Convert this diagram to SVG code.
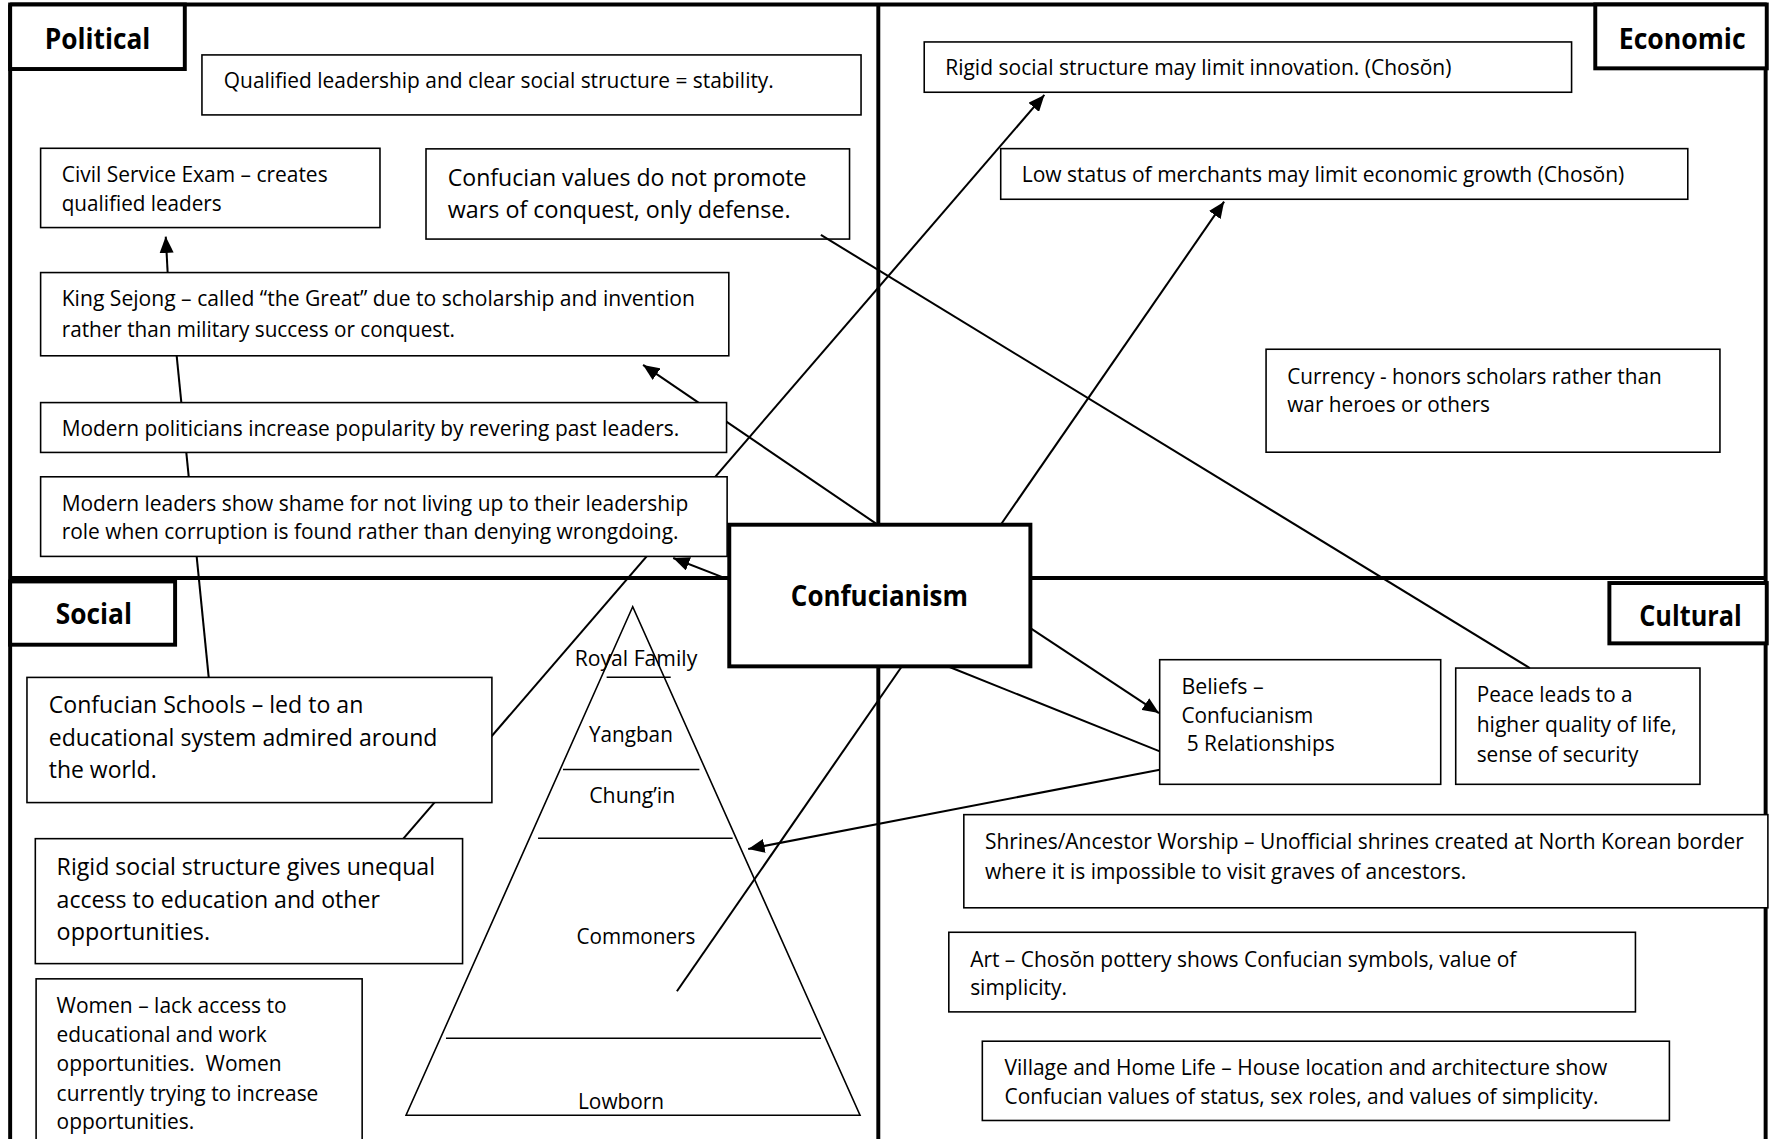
<svg xmlns="http://www.w3.org/2000/svg" width="1769" height="1139" viewBox="0 0 1769 1139">
<style>
.box{fill:#fff;stroke:#000;stroke-width:1.4}
.thick{fill:#fff;stroke:#000;stroke-width:3.5}
.frame{stroke:#000;stroke-width:3.5;fill:none}
.conn{stroke:#000;stroke-width:1.8;fill:none}
.pyr{stroke:#000;stroke-width:1.4;fill:none}
text{font-family:"Open Sans","Liberation Sans",sans-serif;font-size:18.8px;fill:#000}
.tl{font-size:20.8px}
.tb{font-weight:bold;font-size:24.8px}
.mid{text-anchor:middle}
</style>
<defs>
<marker id="arr" viewBox="0 0 14.5 12.5" refX="14.5" refY="6.25" markerWidth="14.5" markerHeight="12.5" markerUnits="userSpaceOnUse" orient="auto">
<path d="M0,0 L14.5,6.25 L0,12.5 z" fill="#000"/>
</marker>
</defs>
<rect x="0" y="0" width="1769" height="1139" fill="#fff"/>
<g transform="scale(1.1282 1.1277)">
<g id="frame">
<line class="frame" x1="9" y1="4" x2="1566" y2="4"/>
<line class="frame" x1="9" y1="4" x2="9" y2="1012"/>
<line class="frame" x1="1565" y1="4" x2="1565" y2="1012"/>
<line class="frame" x1="778.5" y1="4" x2="778.5" y2="1012"/>
<line class="frame" x1="9" y1="512.5" x2="1566" y2="512.5"/>
</g>
<g id="connectors">
<line class="conn" x1="148.6" y1="241.7" x2="146.9" y2="209.8" marker-end="url(#arr)"/>
<line class="conn" x1="156.6" y1="315.5" x2="185" y2="600.7"/>
<line class="conn" x1="777.5" y1="465" x2="570" y2="323.6" marker-end="url(#arr)"/>
<line class="conn" x1="646" y1="514" x2="596.7" y2="494.8" marker-end="url(#arr)"/>
<line class="conn" x1="357.5" y1="743.7" x2="925.7" y2="84.2" marker-end="url(#arr)"/>
<line class="conn" x1="887" y1="465.3" x2="1085" y2="178.8" marker-end="url(#arr)"/>
<line class="conn" x1="799.3" y1="591" x2="600" y2="879"/>
<line class="conn" x1="913.3" y1="557" x2="1027.3" y2="632.3" marker-end="url(#arr)"/>
<line class="conn" x1="840.5" y1="591" x2="1028" y2="666.3"/>
<line class="conn" x1="1028" y1="682.5" x2="663.2" y2="752.9" marker-end="url(#arr)"/>
</g>
<g id="label-political"><rect class="thick" x="9" y="4" width="154.8" height="57.2"/><text class="tb" x="39.7" y="43.5" textLength="93.6" lengthAdjust="spacingAndGlyphs">Political</text></g>
<g id="label-economic"><rect class="thick" x="1414" y="4" width="152" height="56.6"/><text class="tb" x="1434.8" y="43.5" textLength="112.5" lengthAdjust="spacingAndGlyphs">Economic</text></g>
<g id="label-social"><rect class="thick" x="9" y="515.6" width="146.2" height="56.1"/><text class="tb" x="49.4" y="553.2" textLength="67.6" lengthAdjust="spacingAndGlyphs">Social</text></g>
<g id="label-cultural"><rect class="thick" x="1426.5" y="517" width="139.5" height="53.5"/><text class="tb" x="1453" y="554.7" textLength="90.8" lengthAdjust="spacingAndGlyphs">Cultural</text></g>
<g id="pol-stability"><rect class="box" x="179" y="48.7" width="584.2" height="53.2"/><text x="198.4" y="78.2" textLength="487.5" lengthAdjust="spacingAndGlyphs">Qualified leadership and clear social structure = stability.</text></g>
<g id="pol-civil"><rect class="box" x="36" y="131.5" width="300.8" height="70.3"/><text x="54.7" y="161.8" textLength="235.7" lengthAdjust="spacingAndGlyphs">Civil Service Exam – creates</text><text x="54.7" y="186.8" textLength="141.8" lengthAdjust="spacingAndGlyphs">qualified leaders</text></g>
<g id="pol-defense"><rect class="box" x="377.6" y="132" width="375.4" height="80"/><text class="tl" x="396.9" y="164.8" textLength="318" lengthAdjust="spacingAndGlyphs">Confucian values do not promote</text><text class="tl" x="396.9" y="193.4" textLength="303.8" lengthAdjust="spacingAndGlyphs">wars of conquest, only defense.</text></g>
<g id="pol-sejong"><rect class="box" x="36" y="241.7" width="610" height="73.8"/><text x="54.7" y="271.1" textLength="561.3" lengthAdjust="spacingAndGlyphs">King Sejong – called “the Great” due to scholarship and invention</text><text x="54.7" y="299.2" textLength="348.6" lengthAdjust="spacingAndGlyphs">rather than military success or conquest.</text></g>
<g id="pol-revere"><rect class="box" x="36" y="357" width="608" height="44.2"/><text x="54.7" y="386.4" textLength="547.4" lengthAdjust="spacingAndGlyphs">Modern politicians increase popularity by revering past leaders.</text></g>
<g id="pol-shame"><rect class="box" x="36" y="422.8" width="608.5" height="70.6"/><text x="54.7" y="452.8" textLength="555.3" lengthAdjust="spacingAndGlyphs">Modern leaders show shame for not living up to their leadership</text><text x="54.7" y="478.3" textLength="546.7" lengthAdjust="spacingAndGlyphs">role when corruption is found rather than denying wrongdoing.</text></g>
<g id="eco-innovation"><rect class="box" x="819.2" y="37.2" width="573.8" height="44.6"/><text x="837.8" y="66.4" textLength="448.7" lengthAdjust="spacingAndGlyphs">Rigid social structure may limit innovation. (Chosŏn)</text></g>
<g id="eco-merchants"><rect class="box" x="887" y="131.8" width="609" height="44.9"/><text x="905.6" y="161.8" textLength="534.1" lengthAdjust="spacingAndGlyphs">Low status of merchants may limit economic growth (Chosŏn)</text></g>
<g id="eco-currency"><rect class="box" x="1122.2" y="309.7" width="402.3" height="91.3"/><text x="1141" y="340.6" textLength="331.9" lengthAdjust="spacingAndGlyphs">Currency - honors scholars rather than</text><text x="1141" y="365.7" textLength="179.7" lengthAdjust="spacingAndGlyphs">war heroes or others</text></g>
<g id="soc-schools"><rect class="box" x="23.9" y="600.7" width="412.1" height="111"/><text class="tl" x="43.2" y="632.5" textLength="278.9" lengthAdjust="spacingAndGlyphs">Confucian Schools – led to an</text><text class="tl" x="43.2" y="661.2" textLength="344.5" lengthAdjust="spacingAndGlyphs">educational system admired around</text><text class="tl" x="43.2" y="689.8" textLength="95.7" lengthAdjust="spacingAndGlyphs">the world.</text></g>
<g id="soc-rigid"><rect class="box" x="31.3" y="743.7" width="378.7" height="110.8"/><text class="tl" x="50.2" y="775.8" textLength="335.4" lengthAdjust="spacingAndGlyphs">Rigid social structure gives unequal</text><text class="tl" x="50.2" y="805" textLength="286.6" lengthAdjust="spacingAndGlyphs">access to education and other</text><text class="tl" x="50.2" y="833.2" textLength="136" lengthAdjust="spacingAndGlyphs">opportunities.</text></g>
<g id="soc-women"><rect class="box" x="32" y="868" width="289" height="170"/><text x="50.2" y="898.4" textLength="203.9" lengthAdjust="spacingAndGlyphs">Women – lack access to</text><text x="50.2" y="923.8" textLength="186.2" lengthAdjust="spacingAndGlyphs">educational and work</text><text x="50.2" y="949.8" textLength="199.5" lengthAdjust="spacingAndGlyphs">opportunities.&#160; Women</text><text x="50.2" y="976.1" textLength="232" lengthAdjust="spacingAndGlyphs">currently trying to increase</text><text x="50.2" y="1000.9" textLength="122" lengthAdjust="spacingAndGlyphs">opportunities.</text></g>
<g id="soc-pyramid">
<polygon class="pyr" points="560.8,538 359.9,989 762.3,989"/>
<line class="pyr" x1="537.7" y1="600.5" x2="594.5" y2="600.5"/>
<line class="pyr" x1="499" y1="682.3" x2="619.9" y2="682.3"/>
<line class="pyr" x1="476.9" y1="743.3" x2="649.4" y2="743.3"/>
<line class="pyr" x1="395.3" y1="920.7" x2="727.7" y2="920.7"/>
<text class="mid" x="563.7" y="590.8" textLength="108.7" lengthAdjust="spacingAndGlyphs">Royal Family</text>
<text class="mid" x="559.2" y="657.8" textLength="74.4" lengthAdjust="spacingAndGlyphs">Yangban</text>
<text class="mid" x="560.4" y="712.5" textLength="76.3" lengthAdjust="spacingAndGlyphs">Chung’in</text>
<text class="mid" x="563.7" y="837.2" textLength="105.4" lengthAdjust="spacingAndGlyphs">Commoners</text>
<text class="mid" x="550.5" y="983.1" textLength="76.4" lengthAdjust="spacingAndGlyphs">Lowborn</text>
</g>
<g id="confucianism"><rect class="thick" x="646.4" y="465.3" width="266.9" height="125.6"/><text class="tb" x="701" y="537.7" textLength="157" lengthAdjust="spacingAndGlyphs">Confucianism</text></g>
<g id="cul-beliefs"><rect class="box" x="1027.9" y="585" width="249.1" height="110.5"/><text x="1047.2" y="615.3" textLength="72.8" lengthAdjust="spacingAndGlyphs">Beliefs –</text><text x="1047.2" y="641.3" textLength="116.9" lengthAdjust="spacingAndGlyphs">Confucianism</text><text x="1051.8" y="666.2" textLength="131.2" lengthAdjust="spacingAndGlyphs">5 Relationships</text></g>
<g id="cul-peace"><rect class="box" x="1290.3" y="592.4" width="216.5" height="103.1"/><text x="1308.9" y="622.3" textLength="138.2" lengthAdjust="spacingAndGlyphs">Peace leads to a</text><text x="1308.9" y="648.8" textLength="177.3" lengthAdjust="spacingAndGlyphs">higher quality of life,</text><text x="1308.9" y="675.3" textLength="143.3" lengthAdjust="spacingAndGlyphs">sense of security</text></g>
<g id="cul-shrines"><rect class="box" x="854.3" y="722.4" width="712.7" height="82.6"/><text x="873" y="752.8" textLength="672.7" lengthAdjust="spacingAndGlyphs">Shrines/Ancestor Worship – Unofficial shrines created at North Korean border</text><text x="873" y="779.3" textLength="426.6" lengthAdjust="spacingAndGlyphs">where it is impossible to visit graves of ancestors.</text></g>
<g id="cul-art"><rect class="box" x="841" y="826.7" width="608.6" height="70.6"/><text x="859.9" y="857.6" textLength="484.2" lengthAdjust="spacingAndGlyphs">Art – Chosŏn pottery shows Confucian symbols, value of</text><text x="859.9" y="882.7" textLength="85.8" lengthAdjust="spacingAndGlyphs">simplicity.</text></g>
<g id="cul-village"><rect class="box" x="870.7" y="923.3" width="609" height="70.3"/><text x="890.4" y="953.6" textLength="534.2" lengthAdjust="spacingAndGlyphs">Village and Home Life – House location and architecture show</text><text x="890.4" y="978.8" textLength="526.4" lengthAdjust="spacingAndGlyphs">Confucian values of status, sex roles, and values of simplicity.</text></g>
<g id="connectors-front"><line class="conn" x1="727.6" y1="208.3" x2="1356" y2="592.4"/></g>
</g>
</svg>
